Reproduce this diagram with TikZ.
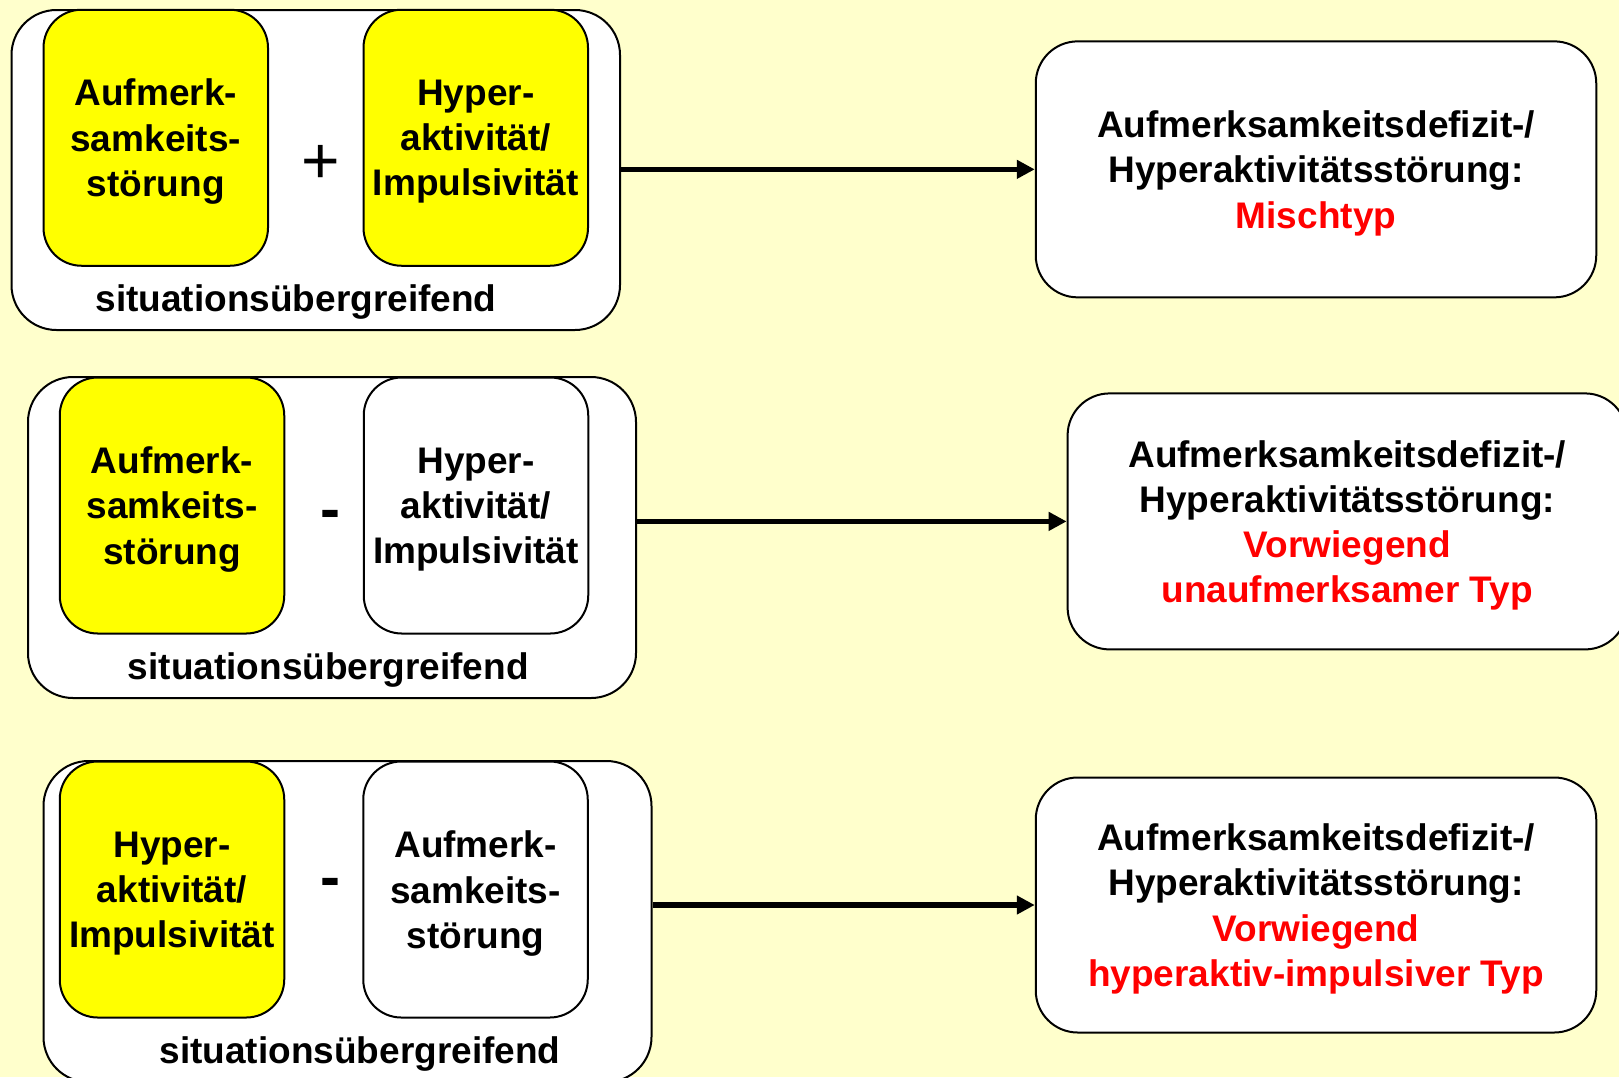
\documentclass[tikz,border=0pt]{standalone}
\usepackage{fontspec}
\setmainfont{Liberation Sans}
\usetikzlibrary{arrows.meta}
\definecolor{bg}{HTML}{FFFFCC}
\definecolor{hl}{HTML}{FFFF00}
\definecolor{rd}{HTML}{FF0000}
\tikzset{
 txt/.style={font=\bfseries\fontsize{37}{45.3}\selectfont, align=center},
 outerbox/.style={draw, fill=white, line width=2pt, rounded corners=45pt, inner sep=0pt},
 innerbox/.style={draw, line width=2pt, rounded corners=38pt, inner sep=0pt,
   minimum width=224.5pt, minimum height=256pt},
 ybox/.style={innerbox, fill=hl},
 wbox/.style={innerbox, fill=white},
 resbox/.style={draw, fill=white, line width=2pt, rounded corners=42pt, inner sep=0pt,
   minimum width=560.5pt, minimum height=256pt},
 conn/.style={line width=5.5pt, -{Triangle[length=18pt,width=18pt]}},
 boxtext/.style={txt, inner sep=0pt, yshift=-4pt},
 lbl/.style={txt, anchor=base, inner sep=0pt},
 plussign/.style={font=\fontsize{66}{66}\selectfont, anchor=base, inner sep=0pt},
 minussign/.style={font=\bfseries\fontsize{60}{60}\selectfont, anchor=base, inner sep=0pt},
}
\begin{document}
\begin{tikzpicture}[x=1pt,y=-1pt]
\fill[bg] (0,0) rectangle (1619,1077);
\useasboundingbox (0,0) rectangle (1619,1077);

% row 1
\node[outerbox, minimum width=608.5pt, minimum height=320pt] (o1) at (315.75,170) {};
\node[ybox] (a1) at (155.75,137.75) {};
\node[boxtext] (a1t) at (a1.center) {Aufmerk-\\samkeits-\\störung};
\node[ybox] (b1) at (475.75,137.75) {};
\node[boxtext] (b1t) at (b1.center) {Hyper-\\aktivität/\\Impulsivität};
\node[plussign] (p1) at (321,183.7) {+};
\node[lbl] (s1) at (296,311.5) {situationsübergreifend};
\node[resbox] (r1) at (1316,169.35) {};
\node[boxtext] (r1t) at (r1.center) {Aufmerksamkeitsdefizit-/\\Hyperaktivitätsstörung:\\\textcolor{rd}{Mischtyp}};
\draw[conn] (o1.east |- r1.west) -- (r1.west);

% row 2
\node[outerbox, minimum width=608pt, minimum height=321pt] (o2) at (332,537.5) {};
\node[ybox] (a2) at (172,505.5) {};
\node[boxtext] (a2t) at (a2.center) {Aufmerk-\\samkeits-\\störung};
\node[wbox] (b2) at (476,505.5) {};
\node[boxtext] (b2t) at (b2.center) {Hyper-\\aktivität/\\Impulsivität};
\node[minussign] (m2) at (330,529.7) {-};
\node[lbl] (s2) at (328.3,679) {situationsübergreifend};
\node[resbox, minimum width=559.4pt] (r2) at (1347.3,521.4) {};
\node[boxtext] (r2t) at (r2.center) {Aufmerksamkeitsdefizit-/\\Hyperaktivitätsstörung:\\\textcolor{rd}{Vorwiegend}\\\textcolor{rd}{unaufmerksamer Typ}};
\draw[conn] (o2.east |- r2.west) -- (r2.west);

% row 3
\node[outerbox, minimum width=608pt, minimum height=321pt] (o3) at (347.5,921.5) {};
\node[ybox] (a3) at (172,889.5) {};
\node[boxtext] (a3t) at (a3.center) {Hyper-\\aktivität/\\Impulsivität};
\node[wbox] (b3) at (475.5,889.5) {};
\node[boxtext] (b3t) at (b3.center) {Aufmerk-\\samkeits-\\störung};
\node[minussign] (m3) at (330,897.7) {-};
\node[lbl] (s3) at (360,1063) {situationsübergreifend};
\node[resbox, minimum height=255pt] (r3) at (1316,905) {};
\node[boxtext] (r3t) at (r3.center) {Aufmerksamkeitsdefizit-/\\Hyperaktivitätsstörung:\\\textcolor{rd}{Vorwiegend}\\\textcolor{rd}{hyperaktiv-impulsiver Typ}};
\draw[conn] (o3.east |- r3.west) -- (r3.west);
\end{tikzpicture}
\end{document}
